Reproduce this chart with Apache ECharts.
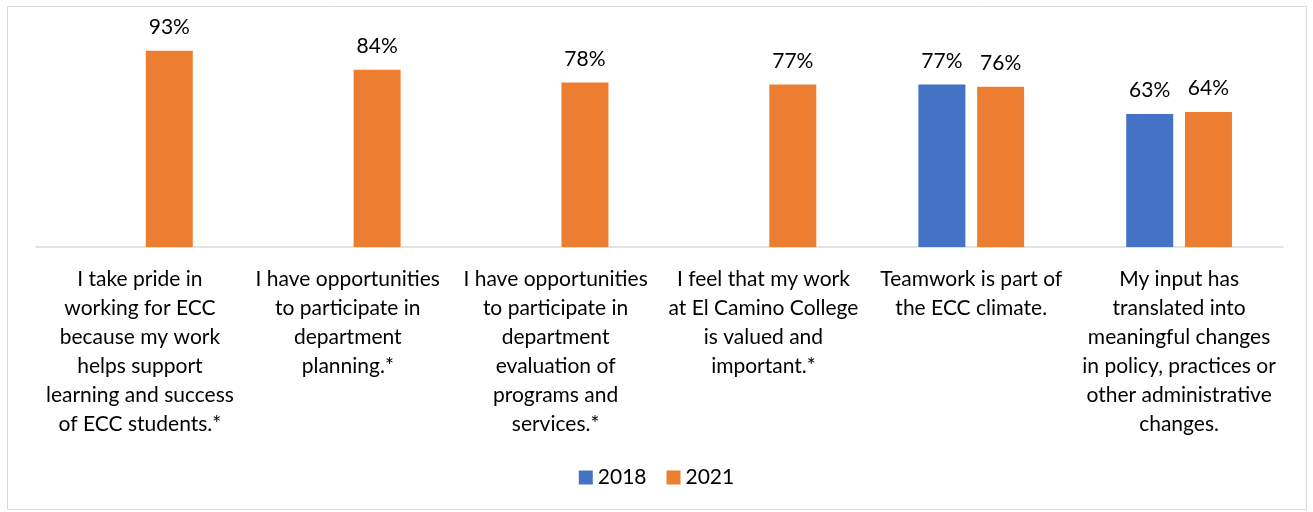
<!DOCTYPE html>
<html><head><meta charset="utf-8">
<script src="https://cdn.jsdelivr.net/npm/echarts@6/dist/echarts.min.js"></script>
<style>html,body{margin:0;padding:0;background:#fff}#c{width:1313px;height:512px}</style>
</head><body><div id="c"></div>
<script>
const categories = [
  "I take pride in\nworking for ECC\nbecause my work\nhelps support\nlearning and success\nof ECC students.*",
  "I have opportunities\nto participate in\ndepartment\nplanning.*",
  "I have opportunities\nto participate in\ndepartment\nevaluation of\nprograms and\nservices.*",
  "I feel that my work\nat El Camino College\nis valued and\nimportant.*",
  "Teamwork is part of\nthe ECC climate.",
  "My input has\ntranslated into\nmeaningful changes\nin policy, practices or\nother administrative\nchanges."
];
const values2018 = [null, null, null, null, 77, 63];
const values2021 = [93, 84, 78, 77, 76, 64];
const seriesNames = ["2018", "2021"];

const FONT = 'Lato, "Open Sans", sans-serif';
const chart = echarts.init(document.getElementById('c'));
const lbl = {show: true, position: 'top', distance: 13, formatter: '{c}%', color: '#000', fontSize: 21, fontFamily: FONT};
chart.setOption({
  animation: false,
  graphic: [{type: 'rect', shape: {x: 7.5, y: 6.5, width: 1299, height: 503}, style: {fill: 'none', stroke: '#d9d9d9', lineWidth: 1}, silent: true}],
  grid: {left: 36, right: 30, top: 36, bottom: 265},
  legend: {
    data: seriesNames, bottom: 19, left: 'center', itemWidth: 14, itemHeight: 14, itemGap: 20,
    icon: 'rect', textStyle: {fontSize: 21, fontFamily: FONT, color: '#000'}
  },
  xAxis: {
    type: 'category', data: categories,
    axisLine: {lineStyle: {color: '#d9d9d9', width: 1.5}},
    axisTick: {show: false},
    axisLabel: {interval: 0, color: '#000', fontSize: 21, fontFamily: FONT, lineHeight: 29, margin: 18, align: 'center'}
  },
  yAxis: {type: 'value', min: 0, max: 100, show: false, splitLine: {show: false}},
  series: [
    {name: seriesNames[0], type: 'bar', data: values2018, barWidth: 47, barGap: '25%', itemStyle: {color: '#4472C4'}, label: lbl},
    {name: seriesNames[1], type: 'bar', data: values2021, barWidth: 47, itemStyle: {color: '#ED7D31'}, label: lbl}
  ]
});
</script></body></html>
